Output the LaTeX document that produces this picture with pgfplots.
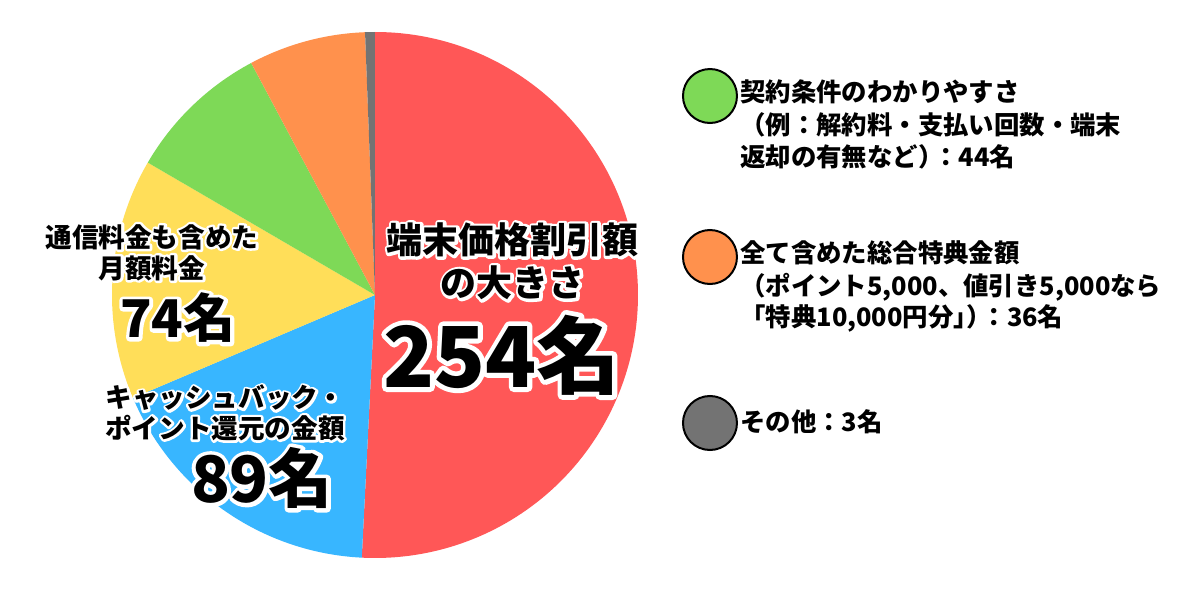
\documentclass[border=0pt]{standalone}
\usepackage{pgfplots}
\pgfplotsset{compat=1.18}
\usepackage{pgfplotstable}
\usepackage{fontspec}
\setmainfont{Noto Sans CJK JP}
\newfontfamily\jpblack{Noto Sans CJK JP Black}

\definecolor{cred}{HTML}{FF5757}
\definecolor{cblue}{HTML}{38B6FF}
\definecolor{cyellow}{HTML}{FFDE59}
\definecolor{cgreen}{HTML}{7ED957}
\definecolor{corange}{HTML}{FF914D}
\definecolor{cgray}{HTML}{737373}

% answers, clockwise from the top
\pgfplotstableread{
value col
254 cred
89 cblue
74 cyellow
44 cgreen
36 corange
3 cgray
}\piedata

% white outline: stroked copy (text render mode 2) under the black text
\newcommand\outl[2]{\leavevmode\rlap{\color{white}\special{pdf:code q 1 j #1 w 2 Tr}#2\special{pdf:code Q}}#2}

\begin{document}
\begin{tikzpicture}[
    legtext/.style={anchor=west, inner sep=0pt,
        font={\fontsize{12.7bp}{15bp}\selectfont\bfseries}},
    pielbl/.style={anchor=center, inner sep=0pt,
        font={\fontsize{13.3bp}{16bp}\selectfont\bfseries}},
]
\useasboundingbox (0,0) rectangle (600bp,300bp);
\begin{axis}[
    x=0.5bp, y=0.5bp,
    xmin=0, xmax=1200, ymin=0, ymax=600,
    at={(0,0)}, anchor=origin,
    hide axis, clip=false,
]
\pgfplotsextra{%
  \pgfplotstablegetrowsof{\piedata}\pgfmathtruncatemacro\lastrow{\pgfplotsretval-1}%
  \def\pietotal{0}%
  \pgfplotsforeachungrouped \i in {0,...,\lastrow}{%
    \pgfplotstablegetelem{\i}{value}\of\piedata
    \pgfmathsetmacro\pietotal{\pietotal+\pgfplotsretval}}%
  \def\angA{90}%
  \pgfplotsforeachungrouped \i in {0,...,\lastrow}{%
    \pgfplotstablegetelem{\i}{value}\of\piedata
    \pgfmathsetmacro\angB{\angA-\pgfplotsretval/\pietotal*360}%
    \pgfplotstablegetelem{\i}{col}\of\piedata
    \edef\slicecol{\pgfplotsretval}%
    \fill[fill=\slicecol] (axis cs:375,305) -- ([shift={(\angA:131.5bp)}]axis cs:375,305)
        arc[start angle=\angA, end angle=\angB, radius=131.5bp] -- cycle;%
    \global\let\angA\angB}%
}

% legend dots
\addplot[only marks, mark=*, mark size=13.5bp,
    mark options={draw=black, fill=cgreen, line width=1bp}] coordinates {(710,504)};
\addplot[only marks, mark=*, mark size=13.5bp,
    mark options={draw=black, fill=corange, line width=1bp}] coordinates {(710,343)};
\addplot[only marks, mark=*, mark size=13.5bp,
    mark options={draw=black, fill=cgray, line width=1bp}] coordinates {(710,177)};

% legend texts
\node[legtext] at (axis cs:740,508) {契約条件のわかりやすさ};
\node[legtext] at (axis cs:740,475) {（例：解約料・支払い回数・端末};
\node[legtext] at (axis cs:740,443) {返却の有無など）\kern-.4em：44名};
\node[legtext] at (axis cs:740,347) {全て含めた総合特典金額};
\node[legtext] at (axis cs:740,313) {（ポイント5,000、値引き5,000なら};
\node[legtext] at (axis cs:740,282) {「特典10,000円分」\kern-.5em）\kern-.4em：36名};
\node[legtext] at (axis cs:740,178) {その他：3名};

% labels on the pie
\node[pielbl, font={\fontsize{18bp}{22bp}\selectfont\bfseries}] at (axis cs:513,360) {\outl{2.8}{端末価格割引額}};
\node[pielbl, font={\fontsize{18bp}{22bp}\selectfont\bfseries}] at (axis cs:513,317) {\outl{2.8}{の大きさ}};
\node[pielbl, font={\fontsize{42bp}{46bp}\selectfont\jpblack}] at (axis cs:502,245) {\outl{4.8}{254名}};

\node[pielbl] at (axis cs:152,363) {\outl{2.4}{通信料金も含めた}};
\node[pielbl] at (axis cs:152,332) {\outl{2.4}{月額料金}};
\node[pielbl, font={\fontsize{26bp}{30bp}\selectfont\jpblack}] at (axis cs:178,282) {\outl{3.6}{74名}};

\node[pielbl] at (axis cs:225,202) {\outl{2.4}{キャッシュバック・}};
\node[pielbl] at (axis cs:225,172) {\outl{2.4}{ポイント還元の金額}};
\node[pielbl, font={\fontsize{32bp}{36bp}\selectfont\jpblack}] at (axis cs:262,122) {\outl{4}{89名}};
\end{axis}
\end{tikzpicture}
\end{document}
